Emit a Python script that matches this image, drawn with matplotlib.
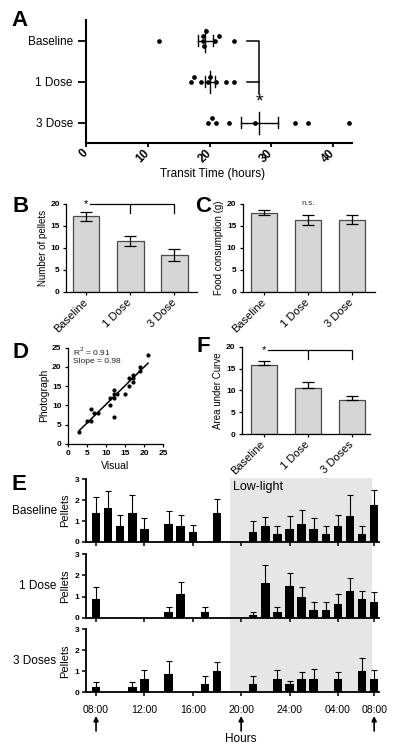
import numpy as np
import matplotlib
matplotlib.use("Agg")
import matplotlib.pyplot as plt
from matplotlib.patches import Rectangle
from matplotlib.transforms import blended_transform_factory

plt.rcParams["font.family"] = ["Liberation Sans", "DejaVu Sans"]

W, H = 400, 753

# ---- Panel A: transit time per animal (hours)
transit_groups = ["Baseline", "1 Dose", "3 Dose"]
transit_baseline = [11.8, 18.9, 19.0, 19.1, 19.5, 20.8, 21.6, 24.0]
transit_1dose = [17.0, 17.4, 18.6, 19.8, 20.1, 21.0, 22.6, 24.0]
transit_3dose = [19.8, 20.4, 21.0, 23.2, 27.4, 33.8, 36.0, 42.6]
transit_ticks = [0, 10, 20, 30, 40]

# ---- Panel B: number of pellets
pellet_groups = ["Baseline", "1 Dose", "3 Dose"]
pellet_mean = [17.1, 11.5, 8.3]
pellet_sem = [0.95, 1.1, 1.4]

# ---- Panel C: food consumption (g)
food_groups = ["Baseline", "1 Dose", "3 Dose"]
food_mean = [17.95, 16.3, 16.4]
food_sem = [0.6, 1.05, 0.95]

# ---- Panel D: visual vs photograph counts
visual = [3, 5, 6, 6, 7, 8, 11, 11, 12, 12, 12, 12, 13, 15, 16, 16, 17, 17, 17, 19, 19, 21]
photo = [3, 6, 6, 9, 8, 8, 10, 12, 14, 13, 7, 12, 13, 13, 15, 17, 17, 16, 18, 19, 20, 23]

# ---- Panel F: area under curve
auc_groups = ["Baseline", "1 Dose", "3 Doses"]
auc_mean = [15.9, 10.5, 7.8]
auc_sem = [0.85, 1.4, 1.0]

# ---- Panel E: hourly pellets, 08:00 through 07:00
hours = list(range(8, 32))
base_mean = [1.375, 1.625, 0.75, 1.375, 0.625, 0, 0.875, 0.75, 0.5, 0, 1.375, 0,
             0, 0.5, 0.75, 0.375, 0.625, 0.875, 0.625, 0.375, 0.75, 1.25, 0.375, 1.75]
base_sem = [0.8, 0.8, 0.52, 0.86, 0.5, 0, 0.6, 0.52, 0.3, 0, 0.68, 0,
            0, 0.5, 0.44, 0.37, 0.62, 0.66, 0.5, 0.37, 0.52, 0.98, 0.37, 0.75]
dose1_mean = [0.875, 0, 0, 0, 0, 0, 0.25, 1.125, 0, 0.25, 0, 0,
              0, 0.125, 1.625, 0.25, 1.5, 1.0, 0.375, 0.375, 0.625, 1.25, 0.875, 0.75]
dose1_sem = [0.58, 0, 0, 0, 0, 0, 0.26, 0.56, 0, 0.26, 0, 0,
             0, 0.13, 0.88, 0.26, 0.63, 0.46, 0.37, 0.37, 0.5, 0.62, 0.38, 0.47]
dose3_mean = [0.25, 0, 0, 0.25, 0.625, 0, 0.875, 0, 0, 0.375, 1.0, 0,
              0, 0.375, 0, 0.625, 0.375, 0.625, 0.625, 0, 0.625, 0, 1.0, 0.625]
dose3_sem = [0.25, 0, 0, 0.25, 0.42, 0, 0.61, 0, 0, 0.38, 0.44, 0,
             0, 0.38, 0, 0.42, 0.18, 0.33, 0.49, 0, 0.33, 0, 0.62, 0.42]
hour_ticks = [8, 12, 16, 20, 24, 28, 31]
hour_labels = ["08:00", "12:00", "16:00", "20:00", "24:00", "04:00", "08:00"]
arrow_hours = [8, 20, 31]
lowlight = (19.1, 30.8)

BAR_FACE = "#d6d6d6"
BAR_EDGE = "#4a4a4a"
SHADE = "#e6e6e6"

fig = plt.figure(figsize=(W / 100, H / 100), dpi=100)


def px_axes(left, top, right, bottom):
    ax = fig.add_axes([left / W, 1 - bottom / H, (right - left) / W, (bottom - top) / H])
    ax.set_facecolor("none")
    for s in ("top", "right"):
        ax.spines[s].set_visible(False)
    return ax


def panel_letter(x, y, s):
    fig.text(x / W, 1 - y / H, s, fontsize=16, fontweight="bold", ha="center", va="center")


def swarm_offsets(values, x_px, y_px, diam):
    values = np.asarray(values, float)
    offs = np.zeros(len(values))
    placed = []
    for i in np.argsort(values):
        for k in range(40):
            step = (k + 1) // 2 * (1 if k % 2 else -1)
            dy = step * diam / y_px
            if all(np.hypot((values[i] - v) * x_px, (dy - o) * y_px) >= diam for v, o in placed):
                break
        offs[i] = dy
        placed.append((values[i], dy))
    return offs


# ================= Panel A
axA = px_axes(86, 20, 351.7, 143.3)
axA.set_xlim(0, 43)
axA.set_ylim(-0.5, 2.5)
x_px = (351.7 - 86) / 43
y_px = (143.3 - 20) / 3
ypos = [2, 1, 0]
for grp, y in zip([transit_baseline, transit_1dose, transit_3dose], ypos):
    offs = swarm_offsets(grp, x_px, y_px, 5.0)
    axA.plot(grp, y + offs, "o", color="black", ms=3.4, mew=0, zorder=3)
    m = np.mean(grp)
    s = np.std(grp, ddof=1) / np.sqrt(len(grp))
    axA.plot([m, m], [y - 0.27, y + 0.27], color="black", lw=1.0)
    axA.plot([m - s, m + s], [y, y], color="black", lw=1.0)
    for e in (m - s, m + s):
        axA.plot([e, e], [y - 0.13, y + 0.13], color="black", lw=1.0)
m3 = np.mean(transit_3dose)
axA.plot([26.0, m3, m3, 26.0], [2, 2, 1, 1], color="black", lw=1.1)
axA.plot([m3, m3], [1, 0.69], color="black", lw=1.1)
axA.text(m3, 0.5, "*", fontsize=14, ha="center", va="center")
axA.set_yticks(ypos)
axA.set_yticklabels(transit_groups, fontsize=8.5)
axA.set_xticks(transit_ticks)
axA.set_xticklabels([str(t) for t in transit_ticks], fontsize=8.5, fontweight="bold",
                    rotation=45, ha="right", va="center", rotation_mode="anchor")
axA.tick_params(axis="y", length=6, width=1.3)
axA.tick_params(axis="x", length=3, width=1.3, pad=3)
for s in ("left", "bottom"):
    axA.spines[s].set_linewidth(1.5)
axA.set_xlabel("Transit Time (hours)", fontsize=8.5, labelpad=2, x=0.475)
panel_letter(20, 21, "A")


def bar_panel(ax, groups, means, sems, ylabel, both=True):
    x = np.arange(len(groups))
    ax.bar(x, means, width=0.6, color=BAR_FACE, edgecolor=BAR_EDGE, linewidth=0.9, zorder=2)
    if both:
        yerr = sems
    else:
        yerr = [np.zeros(len(sems)), sems]
    ax.errorbar(x, means, yerr=yerr, fmt="none", ecolor="black", elinewidth=0.9,
                capsize=4, capthick=0.9, zorder=3)
    ax.set_ylim(0, 20)
    ax.set_yticks([0, 5, 10, 15, 20])
    ax.set_xticks(x)
    ax.set_xticklabels(groups, fontsize=8, rotation=45, ha="right", va="center",
                       rotation_mode="anchor")
    for lab in ax.get_yticklabels():
        lab.set_fontweight("bold")
        lab.set_fontsize(6)
    ax.tick_params(axis="both", length=2.5, width=0.9, pad=2)
    ax.tick_params(axis="x", pad=4)
    for s in ("left", "bottom"):
        ax.spines[s].set_linewidth(0.9)
    ax.set_ylabel(ylabel, fontsize=7, labelpad=2)


def sig_bracket(ax, y, drop):
    ax.text(0, y, "*", fontsize=8, ha="center", va="center", clip_on=False)
    ax.plot([0.1, 2, 2], [y, y, y - drop], color="black", lw=0.9, clip_on=False)
    ax.plot([1, 1], [y, y - drop], color="black", lw=0.9, clip_on=False)


# ================= Panel B
axB = px_axes(66.1, 203.7, 196.6, 291.7)
bar_panel(axB, pellet_groups, pellet_mean, pellet_sem, "Number of pellets")
axB.set_xlim(-0.45, 2.5)
sig_bracket(axB, 20, 2.2)
panel_letter(21, 207, "B")

# ================= Panel C
axC = px_axes(242.6, 203.7, 374.6, 291.7)
bar_panel(axC, food_groups, food_mean, food_sem, "Food consumption (g)")
axC.set_xlim(-0.49, 2.51)
axC.text(1, 20.1, "n.s.", fontsize=6, ha="center", va="center", color="#333333")
panel_letter(203, 207, "C")

# ================= Panel D
axD = px_axes(67.7, 347.7, 163.3, 443.8)
axD.plot(visual, photo, "o", color="black", ms=3.0, mew=0, zorder=3)
k, b = np.polyfit(visual, photo, 1)
xs = np.array([min(visual), max(visual)])
axD.plot(xs, k * xs + b, color="black", lw=1.1)
axD.set_xlim(0, 25)
axD.set_ylim(0, 25)
axD.set_xticks([0, 5, 10, 15, 20, 25])
axD.set_yticks([0, 5, 10, 15, 20, 25])
for lab in axD.get_xticklabels() + axD.get_yticklabels():
    lab.set_fontweight("bold")
    lab.set_fontsize(6)
axD.tick_params(axis="both", length=2.5, width=0.9, pad=2)
for s in ("left", "bottom"):
    axD.spines[s].set_linewidth(0.9)
axD.text(1.3, 24.0, "R$^2$ = 0.91", fontsize=6, va="center", color="#222222")
axD.text(1.3, 21.5, "Slope = 0.98", fontsize=6, va="center", color="#222222")
axD.set_xlabel("Visual", fontsize=7.5, labelpad=3)
axD.set_ylabel("Photograph", fontsize=7.5, labelpad=2)
panel_letter(20, 352, "D")

# ================= Panel F
axF = px_axes(241.7, 346.7, 370, 434)
bar_panel(axF, auc_groups, auc_mean, auc_sem, "Area under Curve", both=False)
axF.set_xlim(-0.5, 2.41)
sig_bracket(axF, 19.2, 2.1)
panel_letter(203, 346, "F")

# ================= Panel E
rows = [
    ("Baseline", base_mean, base_sem, 479.3, 542.0, 35),
    ("1 Dose", dose1_mean, dose1_sem, 554.3, 617.7, 38),
    ("3 Doses", dose3_mean, dose3_sem, 629.3, 692.3, 35),
]
e_axes = []
for name, mean, sem, top, bottom, lx in rows:
    ax = px_axes(86, top, 379, bottom)
    mean = np.asarray(mean)
    sem = np.asarray(sem)
    hrs = np.asarray(hours)
    keep = mean > 0
    ax.bar(hrs[keep], mean[keep], width=0.7, color="black", zorder=3)
    ax.errorbar(hrs[keep], mean[keep], yerr=[np.zeros(keep.sum()), sem[keep]], fmt="none",
                ecolor="black", elinewidth=0.8, capsize=2.2, capthick=0.8, zorder=3)
    ax.set_xlim(7.17, 31.4)
    ax.set_ylim(0, 3)
    ax.set_yticks([0, 1, 2, 3])
    for lab in ax.get_yticklabels():
        lab.set_fontweight("bold")
        lab.set_fontsize(6)
    ax.set_xticks(hour_ticks)
    ax.set_xticklabels([])
    ax.tick_params(axis="both", length=3, width=1.1, pad=2)
    for s in ("left", "bottom"):
        ax.spines[s].set_linewidth(1.3)
    ax.set_ylabel("Pellets", fontsize=8, labelpad=3)
    fig.text(lx / W, 1 - ((top + bottom) / 2) / H, name, fontsize=8.5, ha="center", va="center")
    e_axes.append(ax)

axE3 = e_axes[-1]
axE3.set_xticklabels(hour_labels, fontsize=7.5)
axE3.tick_params(axis="x", pad=6)

shade_tf = blended_transform_factory(axE3.transData, fig.transFigure)
y0 = 1 - 692.3 / H
y1 = 1 - 478.0 / H
fig.add_artist(Rectangle((lowlight[0], y0), lowlight[1] - lowlight[0], y1 - y0,
                         transform=shade_tf, facecolor=SHADE, edgecolor="none", zorder=-1))
e_axes[0].text(lowlight[0] + 0.2, 2.63, "Low-light", fontsize=9, va="center")

for h in arrow_hours:
    axE3.annotate("", xy=(h, 1 - 716.0 / H), xytext=(h, 1 - 731.0 / H),
                  xycoords=("data", "figure fraction"), textcoords=("data", "figure fraction"),
                  arrowprops=dict(arrowstyle="-|>", color="black", lw=1.2,
                                  mutation_scale=7, shrinkA=0, shrinkB=0))
axE3.annotate("Hours", xy=(20, 1 - 738.5 / H), xycoords=("data", "figure fraction"),
              fontsize=8.5, ha="center", va="center")
panel_letter(19, 485, "E")

fig.savefig("out.png", dpi=100)
